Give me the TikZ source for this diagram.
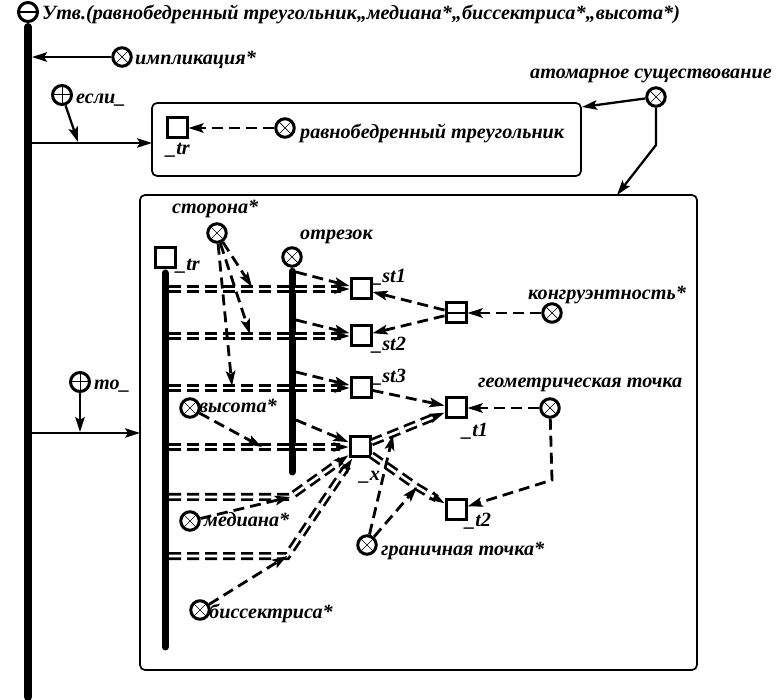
\documentclass[tikz,border=0pt]{standalone}
\usepackage{fontspec}
\setmainfont{Liberation Serif}
\usetikzlibrary{arrows.meta,decorations.markings}
\tikzset{
  x=1pt, y=-1pt,
  >={Stealth[length=15pt,width=9.5pt,inset=3pt]},
  lbl/.style={inner sep=0pt, anchor=base west, font=\fontsize{20.2}{22}\selectfont\bfseries\itshape},
  elem/.style={circle, draw, fill=white, line width=3pt, minimum size=18.5pt, inner sep=0pt,
    path picture={\draw[line width=0.7pt] (path picture bounding box.north west) -- (path picture bounding box.south east)
      (path picture bounding box.north east) -- (path picture bounding box.south west);}},
  pluselem/.style={circle, draw, fill=white, line width=3pt, minimum size=19pt, inner sep=0pt,
    path picture={\draw[line width=1pt] (path picture bounding box.north) -- (path picture bounding box.south)
      (path picture bounding box.east) -- (path picture bounding box.west);}},
  minuselem/.style={circle, draw, fill=white, line width=3pt, minimum size=19pt, inner sep=0pt,
    path picture={\draw[line width=1.6pt] (path picture bounding box.east) -- (path picture bounding box.west);}},
  sq/.style={rectangle, draw, fill=white, line width=3pt, minimum size=20pt, inner sep=0pt},
  sqm/.style={sq, path picture={\draw[line width=1.6pt] (path picture bounding box.east) -- (path picture bounding box.west);}},
  box/.style={rectangle, draw, rounded corners=5pt, line width=1.7pt, inner sep=0pt},
  bar/.style={line width=7pt, line cap=round, shorten <=3.5pt},
  arr/.style={line width=2.3pt, ->},
  harr/.style={line width=1.7pt, ->},
  dsh/.style={line width=2.8pt, dash pattern=on 11pt off 6pt, ->},
  dbl/.style={line width=2.7pt, double, double distance=2.6pt, dash pattern=on 12pt off 6pt, shorten >=9pt},
  endtip/.style={postaction={decorate}, decoration={markings,
    mark=at position 1 with {\arrow[line width=2.3pt]{Stealth[length=15pt,width=9.5pt,inset=3pt]}}}},
}
\begin{document}
\begin{tikzpicture}
\useasboundingbox (0,0) rectangle (777,700);
% outer structure
\node[minuselem] (root) at (28,12) {};
\coordinate (rootend) at (28,697);
\draw[line width=8pt, line cap=round, shorten <=4pt] (root.south) -- (rootend);
\node[lbl] (title) at (42,20) {Утв.(равнобедренный треугольник,,медиана*,,биссектриса*,,высота*)};
\node[elem] (impl) at (122,57) {};
\node[lbl] (impllbl) at (135,65) {импликация*};
\coordinate (implhit) at (32,57);
\draw[arr] (impl) -- (implhit);

\node[box, minimum width=429pt, minimum height=73pt] (box1) at (366.5,139.5) {};
\node[box, minimum width=557pt, minimum height=475pt] (box2) at (418.5,432.5) {};

\node[pluselem] (ifn) at (62,95) {};
\node[lbl] (iflbl) at (76,104) {если\_};
\coordinate (ifstart) at (32,143);
\coordinate (ifend) at (152,143);
\coordinate (ifhit) at (78,142);
\draw[harr] (ifstart) -- (ifend);
\draw[arr] (ifn) -- (ifhit);

\node[pluselem] (thn) at (80,382) {};
\node[lbl] (thlbl) at (94,390) {то\_};
\coordinate (thstart) at (32,433);
\coordinate (thend) at (140,433);
\coordinate (thhit) at (80,432);
\draw[harr] (thstart) -- (thend);
\draw[arr] (thn) -- (thhit);

% box 1
\node[sq] (tr1) at (177,128) {};
\node[lbl] (tr1lbl) at (166,155) {\_tr};
\node[elem] (ib1) at (285,128) {};
\node[lbl] (ib1lbl) at (300,139) {равнобедренный треугольник};
\draw[dsh] (ib1) -- (tr1);

% atomic existence
\node[lbl] (atomlbl) at (530,79) {атомарное существование};
\node[elem] (atom) at (656,97) {};
\coordinate (box1c) at (582,107);
\coordinate (atomk) at (656,145);
\coordinate (box2hit) at (617,195);
\draw[arr] (atom) -- (box1c);
\draw[arr] (atom) -- (atomk) -- (box2hit);

% box 2 nodes
\node[lbl] (sidelbl) at (172,214) {сторона*};
\node[elem] (side) at (217,233) {};
\node[sq] (tr2) at (165,258) {};
\node[lbl] (tr2lbl) at (176,271) {\_tr};
\coordinate (tr2end) at (165,647);
\draw[bar] (tr2.south) -- (tr2end);
\node[lbl] (seglbl) at (300,240) {отрезок};
\node[elem] (seg) at (292,257) {};
\coordinate (segend) at (292,472);
\draw[bar] (seg.south) -- (segend);

\node[sq] (st1) at (361,289) {};
\node[lbl] (st1lbl) at (372,283) {\_st1};
\node[sq] (st2) at (361,336) {};
\node[lbl] (st2lbl) at (372,351) {\_st2};
\node[sq] (st3) at (361,388) {};
\node[lbl] (st3lbl) at (372,383) {\_st3};
\node[sqm] (cg) at (456,313) {};
\node[elem] (cong) at (552,313) {};
\node[lbl] (conglbl) at (528,300) {конгруэнтность*};
\node[elem] (geo) at (550,408) {};
\node[lbl] (geolbl) at (478,388) {геометрическая точка};
\node[sq] (t1) at (456,408) {};
\node[lbl] (t1lbl) at (462,437) {\_t1};
\node[sq] (t2) at (456,510) {};
\node[lbl] (t2lbl) at (465,526) {\_t2};
\node[sq] (x) at (360,447) {};
\node[elem] (alt) at (190,408) {};
\node[lbl] (altlbl) at (199,413) {высота*};
\node[elem] (med) at (190,521) {};
\node[lbl] (medlbl) at (204,526) {медиана*};
\node[elem] (bnd) at (367,545) {};
\node[lbl] (bndlbl) at (381,555) {граничная точка*};
\node[elem] (bis) at (200,610) {};
\node[lbl] (bislbl) at (209,618) {биссектриса*};

% row coordinates
\coordinate (r1) at (169,289);
\coordinate (r2) at (169,336);
\coordinate (r3) at (169,388);
\coordinate (r4) at (169,447);
\coordinate (r5) at (169,497);
\coordinate (r6) at (169,556);
\coordinate (b5) at (290,497);
\coordinate (b6) at (287,556);
\coordinate (k) at (417,487);

% double arcs
\draw[dbl] (r1) -- (st1); \path[endtip] (r1) -- (st1);
\draw[dbl] (r2) -- (st2); \path[endtip] (r2) -- (st2);
\draw[dbl] (r3) -- (st3); \path[endtip] (r3) -- (st3);
\draw[dbl] (r4) -- (x); \path[endtip] (r4) -- (x);
\draw[dbl] (r5) -- (b5) -- (x); \path[endtip] (b5) -- (x);
\draw[dbl] (r6) -- (b6) -- (x); \path[endtip] (b6) -- (x);
\draw[dbl] (x) -- (t1); \path[endtip] (x) -- (t1);
\draw[dbl] (x) -- (k) -- (t2); \path[endtip] (k) -- (t2);

% membership from segment bar
\coordinate (s1) at (296,272);
\coordinate (s2) at (296,320);
\coordinate (s3) at (296,372);
\coordinate (s4) at (296,420);
\draw[dsh] (s1) -- (st1);
\draw[dsh] (s2) -- (st2);
\draw[dsh] (s3) -- (st3);
\draw[dsh] (s4) -- (x);

% attribute arcs
\coordinate (m1) at (252,287);
\coordinate (m2) at (250,334);
\coordinate (m3) at (232,386);
\coordinate (m4) at (262,447);
\coordinate (m7) at (393,435);
\draw[dsh] (side) -- (m1);
\draw[dsh] (side) -- (m2);
\draw[dsh] (side) -- (m3);
\draw[dsh] (alt) -- (m4);
\draw[dsh] (med) -- (b5);
\draw[dsh] (bis) -- (b6);
\draw[dsh] (bnd) -- (m7);
\draw[dsh] (bnd) -- (k);

% other arcs
\draw[dsh] (cong) -- (cg);
\draw[dsh] (cg) -- (st1);
\draw[dsh] (cg) -- (st2);
\draw[dsh] (geo) -- (t1);
\coordinate (gk) at (552,480);
\draw[dsh] (geo) -- (gk) -- (t2);
\draw[dsh] (st3) -- (t1);

% label of _x drawn last so it stays visible
\node[lbl, fill=white, inner sep=0.5pt] (xlbl) at (359,481) {\_x};
\end{tikzpicture}
\end{document}
